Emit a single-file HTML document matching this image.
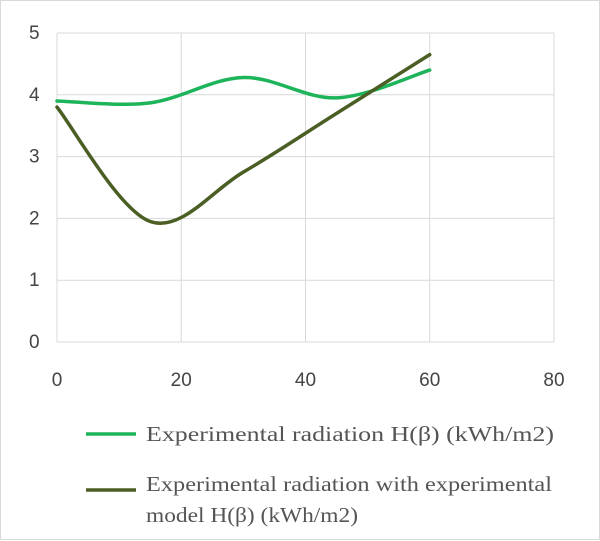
<!DOCTYPE html>
<html><head><meta charset="utf-8"><style>
html,body{margin:0;padding:0;background:#fff}
#wrap{position:relative;width:598px;height:538px;border:1px solid #d9d9d9;background:#fff}
svg{position:absolute;left:0;top:0}
.tick{font-family:"Liberation Sans",sans-serif;font-size:19px;fill:#444}
.leg{font-family:"Liberation Serif",serif;font-size:21px;fill:#555}
</style></head><body>
<div id="wrap">
<svg id="chart" width="600" height="540"></svg>
</div>
<script>
const xTicks=[0,20,40,60,80];
const yTicks=[0,1,2,3,4,5];
const xVals=[0,15,30,45,60];
const greenVals=[3.9,3.87,4.28,3.95,4.4];
const darkVals=[3.8,1.95,2.75,3.7,4.65];
const seriesNames=["Experimental radiation H(β)  (kWh/m2)","Experimental radiation with experimental","model  H(β) (kWh/m2)"];
const NS="http://www.w3.org/2000/svg";
const svg=document.getElementById('chart');
const X0=56,X1=553,Y0=341,Y1=32;
function sx(v){return X0+(v-0)/(80-0)*(X1-X0);}
function sy(v){return Y0-(v-0)/(5-0)*(Y0-Y1);}
function mk(t,a){const e=document.createElementNS(NS,t);for(const k in a)e.setAttribute(k,a[k]);svg.appendChild(e);return e;}
yTicks.forEach(t=>{
const l=mk('line',{x1:X0,x2:X1,y1:sy(t),y2:sy(t),stroke:'#d9d9d9','stroke-width':1});


const tx=mk('text',{x:X0-28,y:sy(t)+6,class:'tick','text-anchor':'start'});tx.textContent=t;


});
xTicks.forEach(t=>{
const l=mk('line',{x1:sx(t),x2:sx(t),y1:Y1,y2:Y0,stroke:'#d9d9d9','stroke-width':1});


const tx=mk('text',{x:sx(t),y:Y0+44,class:'tick','text-anchor':'middle'});tx.textContent=t;


});
function smooth(xs,ys){
const p=xs.map((x,i)=>[sx(x),sy(ys[i])]);
let d='M'+p[0][0]+','+p[0][1];
for(let i=0;i<p.length-1;i++){
const a=p[i-1]||p[i],b=p[i],c=p[i+1],e=p[i+2]||c;
const c1=[b[0]+(c[0]-a[0])/6,b[1]+(c[1]-a[1])/6];
const c2=[c[0]-(e[0]-b[0])/6,c[1]-(e[1]-b[1])/6];
d+=` C${c1[0]},${c1[1]} ${c2[0]},${c2[1]} ${c[0]},${c[1]}`;}
return d;}
const g=mk('path',{d:smooth(xVals,greenVals),fill:'none',stroke:'#1db45a','stroke-width':3.5,'stroke-linecap':'round'});


const dk=mk('path',{d:smooth(xVals,darkVals),fill:'none',stroke:'#4b5e24','stroke-width':3.5,'stroke-linecap':'round'});


const l1=mk('line',{x1:85,x2:135,y1:433,y2:433,stroke:'#1db45a','stroke-width':3.5});


const t1=mk('text',{x:145,y:440,class:'leg',textLength:408,lengthAdjust:'spacingAndGlyphs'});t1.textContent=seriesNames[0];


const l2=mk('line',{x1:85,x2:135,y1:489,y2:489,stroke:'#4b5e24','stroke-width':3.5});


const t2=mk('text',{x:145,y:490,class:'leg',textLength:406,lengthAdjust:'spacingAndGlyphs'});t2.textContent=seriesNames[1];


const t3=mk('text',{x:145,y:521,class:'leg',textLength:212,lengthAdjust:'spacingAndGlyphs'});t3.textContent=seriesNames[2];


</script>
</body></html>
